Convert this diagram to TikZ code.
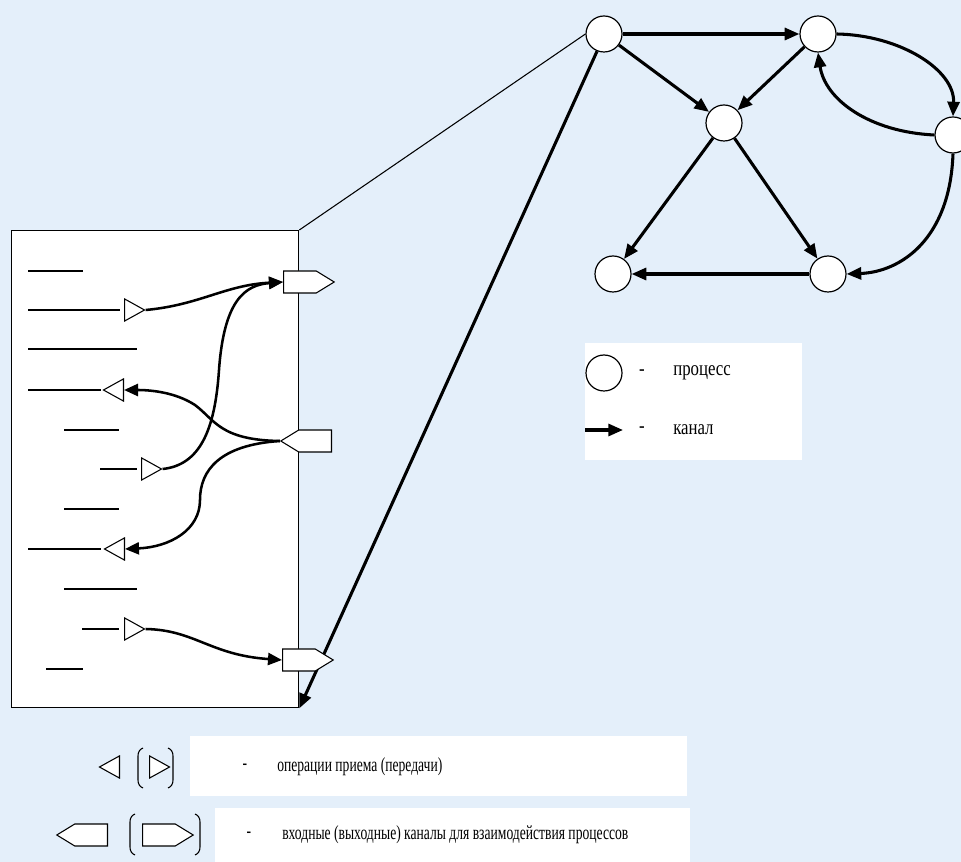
\documentclass[tikz,border=0pt]{standalone}
\usepackage{fontspec}
\setmainfont{Liberation Serif}
\newfontfamily\lblfont[FakeStretch=0.8]{Liberation Serif}
\newfontfamily\narrowfont[FakeStretch=0.68]{Liberation Serif}
\usetikzlibrary{arrows.meta,shapes.geometric,shapes.symbols}
\definecolor{bgblue}{RGB}{228,239,250}
\begin{document}
\begin{tikzpicture}[x=0.75pt,y=-0.75pt,
  proc/.style={circle,draw,fill=white,line width=0.9pt,minimum size=27pt,inner sep=0pt},
  edge/.style={line width=2.3pt,-{Triangle[length=11pt,width=9pt]}},
  link/.style={line width=1.9pt,-{Triangle[length=10.5pt,width=9pt]}},
  codeline/.style={line width=1.1pt},
  optri/.style={isosceles triangle,isosceles triangle apex angle=58,draw,fill=white,inner sep=0pt,minimum height=15pt,line width=0.8pt},
  outport/.style={signal,signal to=east,signal pointer angle=63,draw,fill=white,inner sep=0pt,minimum width=38pt,minimum height=16.5pt,line width=0.8pt},
  inport/.style={signal,signal to=west,signal pointer angle=63,draw,fill=white,inner sep=0pt,minimum width=38pt,minimum height=16.5pt,line width=0.8pt},
  lbl/.style={font=\narrowfont\fontsize{15pt}{17pt}\selectfont,inner sep=0pt},
  biglbl/.style={font=\lblfont\fontsize{15.75pt}{18pt}\selectfont,inner sep=0pt},
  paren/.style={line width=0.8pt}
]
\useasboundingbox (0,0) rectangle (961,862);
\clip (0,0) rectangle (961,862);
\fill[bgblue] (0,0) rectangle (961,862);
\fill[white] (585,343) rectangle (802,460);
\fill[white] (190,736) rectangle (687,796);
\fill[white] (215,808) rectangle (690,862);

% process box
\node[draw,fill=white,line width=1pt,anchor=north west,minimum width=215.25pt,minimum height=357.75pt,inner sep=0pt] (proc) at (11,230) {};
\foreach \xa/\xb/\yy in {28/83/271,28/120/310,28/137/349,28/101/390,64/119/430,100/137/469,64/119/509,28/101/549,64/137/589,82/119/629,46/83/669}
  \draw[codeline] (\xa,\yy) -- (\xb,\yy);
\node[optri,anchor=lower side] (s1) at (124,310) {};
\node[optri,anchor=lower side,rotate=180] (r1) at (124,390) {};
\node[optri,anchor=lower side] (s2) at (141,469) {};
\node[optri,anchor=lower side,rotate=180] (r2) at (125,549) {};
\node[optri,anchor=lower side] (s3) at (124,629) {};

% graph
\node[proc] (p1) at (604,34) {};
\node[proc] (p2) at (818,34) {};
\node[proc] (p3) at (724,123) {};
\node[proc] (p4) at (953,135) {};
\node[proc] (p5) at (613,274) {};
\node[proc] (p6) at (828,274) {};
\draw[edge] (p1) -- (p2);
\draw[edge] (p1) -- (p3);
\draw[edge] (p2) -- (p3);
\draw[edge] (p3) -- (p5);
\draw[edge] (p3) -- (p6);
\draw[edge] (p6) -- (p5);
\draw[edge] (p2.east) .. controls (900,35) and (955,70) .. (p4.north);
\draw[edge] (p4.west) .. controls (870,132) and (825,100) .. (p2.south);
\draw[edge] (p4.south) .. controls (950,240) and (900,272) .. (p6.east);

\draw[line width=0.8pt] (p1.west) -- (proc.north east);
\draw[edge] (p1.-112) -- (proc.south east);

% ports
\node[outport,anchor=west] (o1) at (283,282) {};
\node[inport,anchor=east] (i1) at (332,441) {};
\node[outport,anchor=west] (o2) at (282,660) {};

\draw[link] (s1.apex) .. controls (200,305) and (225,285) .. (o1.west);
\draw[link] (s2.apex) .. controls (200,465) and (215,430) .. (219,370) .. controls (224,300) and (245,285) .. (o1.west);
\draw[link] (i1.west) .. controls (220,440) and (215,420) .. (195,405) .. controls (175,392) and (150,390) .. (r1.lower side);
\draw[link] (i1.west) .. controls (220,445) and (200,470) .. (200,500) .. controls (200,530) and (170,547) .. (r2.lower side);
\draw[link] (s3.apex) .. controls (195,630) and (210,655) .. (o2.west);

% legend right
\node[proc] (lp) at (604,373) {};
\node[biglbl] (d1) at (642,373) {-};
\node[biglbl,anchor=west] (t1) at (673,373) {процесс};
\coordinate (la) at (585,430);
\coordinate (lb) at (623,430);
\draw[edge] (la) -- (lb);
\node[biglbl] (d2) at (642,430) {-};
\node[biglbl,anchor=west] (t2) at (673,430) {канал};

% legend bottom
\node[optri,anchor=lower side,rotate=180] (lr) at (120,767) {};
\node[optri,anchor=lower side] (ls) at (149,767) {};
\draw[paren] (143,748) to[out=200,in=90] (138,756) -- (138,780) to[out=-90,in=160] (143,788);
\draw[paren] (168,748) to[out=-20,in=90] (173,756) -- (173,780) to[out=-90,in=20] (168,788);
\node[lbl] (d3) at (245,767) {-};
\node[lbl,anchor=west] (t3) at (277,767) {операции приема (передачи)};

\node[inport,anchor=east] (li) at (108,835) {};
\node[outport,anchor=west] (lo) at (142,835) {};
\draw[paren] (135,814) to[out=200,in=90] (130,822) -- (130,847) to[out=-90,in=160] (135,855);
\draw[paren] (195,814) to[out=-20,in=90] (200,822) -- (200,847) to[out=-90,in=20] (195,855);
\node[lbl] (d4) at (249,835) {-};
\node[lbl,anchor=west] (t4) at (282,835) {входные (выходные) каналы для взаимодействия процессов};
\end{tikzpicture}
\end{document}
